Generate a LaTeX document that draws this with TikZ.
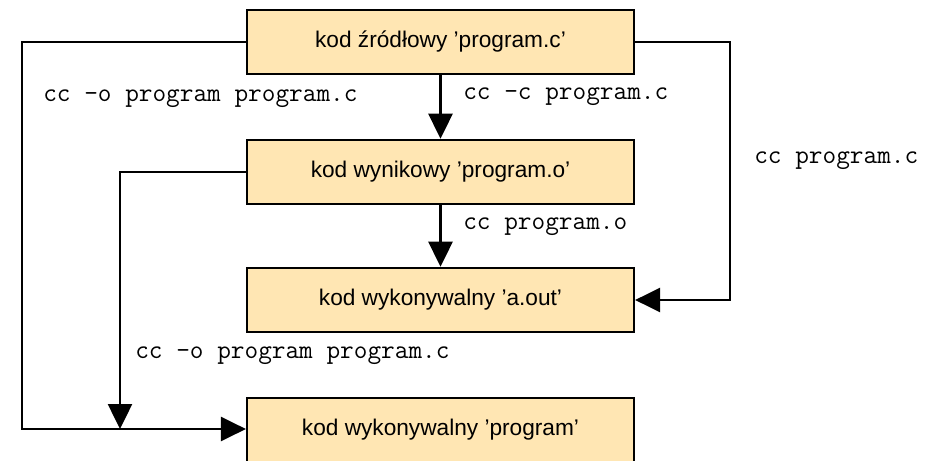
\documentclass[tikz,border=0pt]{standalone}
\usepackage{fontspec}
\setmainfont{Liberation Sans}
\usepackage[HTML]{xcolor}
\usetikzlibrary{positioning, arrows.meta}
\definecolor{boxfill}{HTML}{FFE6B3}
\tikzset{
  codebox/.style={draw, line width=1.9pt, fill=boxfill, minimum width=290pt, minimum height=48pt,
    inner sep=0pt, font=\fontsize{17}{20}\selectfont},
  cmd/.style={anchor=west, inner sep=0pt, font=\fontsize{19.9}{22}\selectfont\ttfamily},
  flow/.style={line width=1.9pt, -{Triangle[length=18.75pt, width=18pt]}}
}

\begin{document}
\begin{tikzpicture}[x=0.75pt, y=-0.75pt]
\useasboundingbox (0,0) rectangle (937,460);
\node[codebox] (src) at (440.5,42) {kod źródłowy ’program.c’};
\node[codebox] (obj) at (440.5,172) {kod wynikowy ’program.o’};
\node[codebox] (aout) at (440.5,300) {kod wykonywalny ’a.out’};
\node[codebox] (prog) at (440.5,430) {kod wykonywalny ’program’};
\coordinate (lc) at (22,429);
\coordinate (mc) at (120,429);
\coordinate (rc) at (730,300);
% polecenia
\node[cmd] (c1) at (43,99) {cc -o program program.c};
\node[cmd] (c2) at (463,97) {cc -c program.c};
\node[cmd] (c3) at (754,161) {cc program.c};
\node[cmd] (c4) at (463,227) {cc program.o};
\node[cmd] (c5) at (135,356) {cc -o program program.c};
% strzalki
\draw[flow] (src.south) -- (obj.north);
\draw[flow] (obj.south) -- (aout.north);
\draw[flow] (src.west) -| (lc) -- (lc -| prog.west);
\draw[flow] (obj.west) -| (mc);
\draw[flow] (src.east) -| (rc) -- (aout.east);
\end{tikzpicture}
\end{document}
